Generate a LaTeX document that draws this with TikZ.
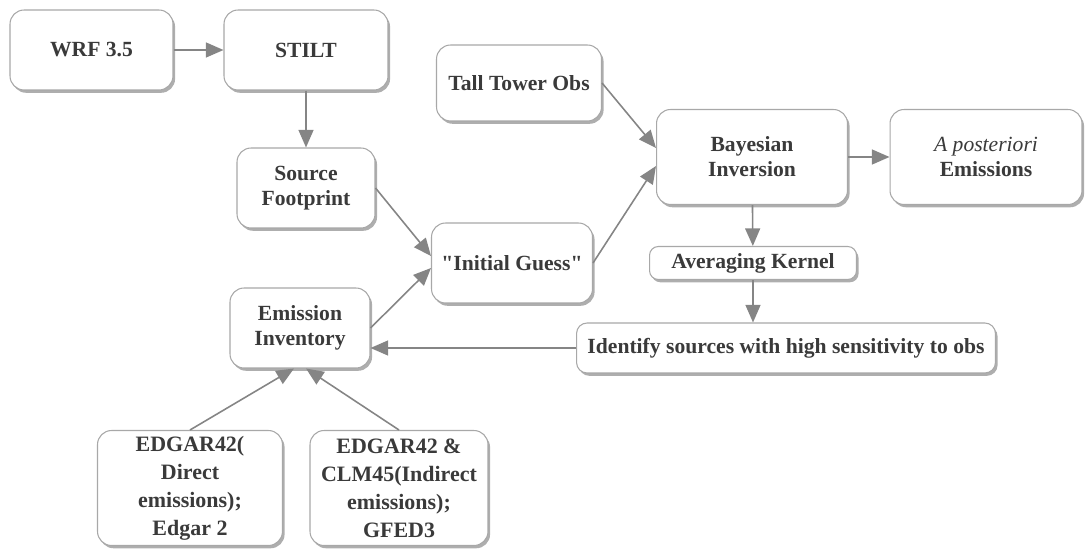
\documentclass[tikz,border=0pt]{standalone}
\usepackage{fontspec}
\setmainfont{Liberation Serif}[Ligatures=TeXOff]
\usetikzlibrary{arrows.meta, shadows, positioning}
\definecolor{Ink}  {HTML}{3A3A3A}
\definecolor{Edge} {HTML}{A8A8A8}
\definecolor{Wire} {HTML}{858585}
\definecolor{Shade}{HTML}{8C8C8C}

\begin{document}
\begin{tikzpicture}[x=0.02cm, y=-0.02cm, >={Triangle[length=10pt, width=8.5pt]},
  box/.style={draw=Edge, line width=0.6pt, fill=white, rounded corners=8pt,
              align=center, text=Ink, inner sep=2pt,
              font=\fontsize{12.3}{14.2}\selectfont\bfseries,
              drop shadow={shadow xshift=1.2pt, shadow yshift=-1.6pt, fill=Shade, opacity=0.7}},
  tall/.style={font=\fontsize{12.5}{15.9}\selectfont\bfseries},
  wire/.style={->, draw=Wire, line width=0.9pt}]
  \useasboundingbox (0,0) rectangle (1091,550);

  \node[box, minimum width=3.26cm, minimum height=1.6cm] (wrf) at (91.5,50) {WRF 3.5};
  \node[box, minimum width=3.28cm, minimum height=1.6cm] (stilt) at (306,50) {STILT};
  \node[box, minimum width=2.76cm, minimum height=1.6cm] (foot) at (306,188) {Source\\Footprint};
  \node[box, minimum width=3.3cm, minimum height=1.52cm] (tower) at (519,83) {Tall Tower Obs};
  \node[box, minimum width=3.22cm, minimum height=1.6cm] (guess) at (512,263) {"Initial Guess"};
  \node[box, minimum width=3.82cm, minimum height=1.9cm] (bayes) at (752,157) {Bayesian\\Inversion};
  \node[box, minimum width=3.84cm, minimum height=1.9cm] (post) at (986,157) {{\mdseries\itshape A posteriori}\\Emissions};
  \node[box, rounded corners=5pt, minimum width=4.14cm, minimum height=0.66cm] (kern) at (753,263) {Averaging Kernel};
  \node[box, rounded corners=6pt, minimum width=8.38cm, minimum height=1cm] (ident) at (786,348) {Identify sources with high sensitivity to obs};
  \node[box, minimum width=2.8cm, minimum height=1.6cm] (inv) at (300,328) {Emission\\Inventory};
  \node[box, tall, minimum width=3.7cm, minimum height=2.3cm] (edg1) at (190,488) {EDGAR42(\\Direct\\emissions);\\Edgar 2};
  \node[box, tall, minimum width=3.56cm, minimum height=2.3cm] (edg2) at (399,488) {EDGAR42 \&\\CLM45(Indirect\\emissions);\\GFED3};

  % model chain
  \draw[wire] (wrf) -- (stilt);
  \draw[wire] (stilt) -- (foot);
  \draw[wire] (foot.east) -- ([yshift=0.14cm]guess.west);
  \draw[wire] (inv.east) -- ([yshift=-0.1cm]guess.west);
  % inversion
  \draw[wire] (tower.east) -- ([yshift=0.18cm]bayes.west);
  \draw[wire] (guess.east) -- ([yshift=-0.18cm]bayes.west);
  \draw[wire] (bayes) -- (post);
  \draw[wire] (bayes) -- (kern);
  \draw[wire] (kern.south) -- (kern.south |- ident.north);
  \draw[wire] (ident.west) -- (ident.west -| inv.east);
  % inventories
  \draw[wire] (edg1.north) -- ([xshift=-0.12cm]inv.south);
  \draw[wire] (edg2.north) -- ([xshift=0.12cm]inv.south);
\end{tikzpicture}
\end{document}
